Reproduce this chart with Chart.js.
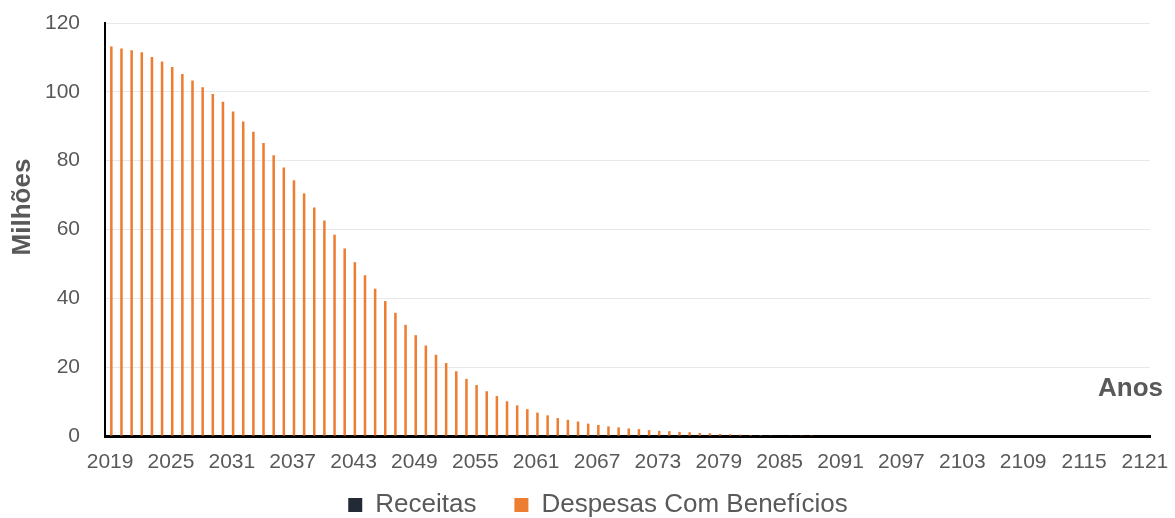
<!DOCTYPE html>
<html>
<head>
<meta charset="utf-8">
<script src="https://cdn.jsdelivr.net/npm/chart.js@4/dist/chart.umd.min.js"></script>
<style>
  html, body { margin: 0; padding: 0; background: #ffffff; }
  #wrap { width: 1175px; height: 518px; position: relative; }
</style>
</head>
<body>
<div id="wrap"><canvas id="c" width="1175" height="518"></canvas></div>
<script>
// ---- Data ----
const years = [];
for (let y = 2019; y <= 2121; y++) years.push(String(y));

const receitas = [
  0,0,0,0,0,0,0,0,0,0, 0,0,0,0,0,0,0,0,0,0,
  0,0,0,0,0,0,0,0,0,0, 0,0,0,0,0,0,0,0,0,0,
  0,0,0,0,0,0,0,0,0,0, 0,0,0,0,0,0,0,0,0,0,
  0,0,0,0,0,0,0,0,0,0, 0,0,0,0,0,0,0,0,0,0,
  0,0,0,0,0,0,0,0,0,0, 0,0,0,0,0,0,0,0,0,0,
  0,0,0
];

const despesas = [
  113.2, 112.6, 112.1, 111.5, 110.1, 108.8, 107.2, 105.2, 103.3, 101.3, // 2019-2028
  99.4, 97.1, 94.3, 91.4, 88.4, 85.1, 81.6, 78.0, 74.3, 70.5,           // 2029-2038
  66.4, 62.6, 58.5, 54.5, 50.5, 46.7, 42.8, 39.2, 35.8, 32.3,           // 2039-2048
  29.3, 26.3, 23.6, 21.2, 18.8, 16.6, 14.8, 13.0, 11.6, 10.1,           // 2049-2058
  8.9, 7.8, 6.8, 6.0, 5.2, 4.7, 4.2, 3.6, 3.2, 2.8,                     // 2059-2068
  2.5, 2.2, 2.0, 1.7, 1.5, 1.4, 1.2, 1.1, 0.9, 0.8,                     // 2069-2078
  0.6, 0.5, 0.4, 0.3, 0.25, 0.2, 0.15, 0.1, 0.08, 0.05,                 // 2079-2088
  0, 0, 0, 0, 0, 0, 0, 0, 0, 0,                                         // 2089-2098
  0, 0, 0, 0, 0, 0, 0, 0, 0, 0,                                         // 2099-2108
  0, 0, 0, 0, 0, 0, 0, 0, 0, 0,                                         // 2109-2118
  0, 0, 0                                                               // 2119-2121
];

const yTicks = [0, 20, 40, 60, 80, 100, 120];
const labelEvery = 6;
const yTitle = 'Milhões';
const xTitle = 'Anos';
const seriesNames = ['Receitas', 'Despesas Com Benefícios'];

// ---- Styles ----
const FONT = '"Liberation Sans", Arial, sans-serif';
const TXT = '#595959';
const CLEAR = 'rgba(0,0,0,0)';

const titlesPlugin = {
  id: 'axisTitles',
  afterDraw(chart) {
    const ctx = chart.ctx;
    ctx.save();
    ctx.fillStyle = TXT;
    ctx.font = 'bold 26px ' + FONT;
    ctx.textBaseline = 'middle';
    ctx.textAlign = 'center';
    ctx.translate(23, 207);
    ctx.rotate(-Math.PI / 2);
    ctx.fillText(yTitle, 0, 0);
    ctx.restore();
    ctx.save();
    ctx.fillStyle = TXT;
    ctx.font = 'bold 26px ' + FONT;
    ctx.textBaseline = 'middle';
    ctx.textAlign = 'right';
    ctx.fillText(xTitle, 1163, 389);
    ctx.restore();
  }
};

const layoutNudge = {
  id: 'layoutNudge',
  afterLayout(chart) {
    const lg = chart.legend;
    if (lg) {
      const dx = 23, dy = 10;
      lg.left += dx; lg.right += dx;
      lg.top += dy; lg.bottom += dy;
    }
    const xs = chart.scales.x;
    if (xs) { xs.bottom = xs.top + 50; }
  }
};

new Chart(document.getElementById('c'), {
  type: 'bar',
  data: {
    labels: years,
    datasets: [
      { label: seriesNames[0], data: receitas, backgroundColor: '#222a35', borderWidth: 0 },
      { label: seriesNames[1], data: despesas, backgroundColor: '#ed7d31', borderWidth: 0 }
    ]
  },
  plugins: [titlesPlugin, layoutNudge],
  options: {
    responsive: false,
    animation: false,
    devicePixelRatio: 1,
    datasets: { bar: { categoryPercentage: 0.5, barPercentage: 1.0 } },
    layout: { padding: { top: 23, right: 25, left: 0, bottom: 0 } },
    plugins: {
      tooltip: { enabled: false },
      legend: {
        position: 'bottom',
        labels: {
          color: TXT,
          font: { family: FONT, size: 26 },
          boxWidth: 14,
          boxHeight: 14,
          padding: 38
        }
      }
    },
    scales: {
      x: {
        grid: { display: true, drawOnChartArea: false, drawTicks: true, tickLength: 14, color: CLEAR, tickColor: CLEAR },
        border: { display: true, color: '#000000', width: 3 },
        ticks: {
          autoSkip: false,
          maxRotation: 0,
          minRotation: 0,
          padding: 0,
          color: TXT,
          font: { family: FONT, size: 21 },
          callback: function(val, idx) { return idx % labelEvery === 0 ? years[idx] : ''; }
        },
        afterFit(scale) { scale.height = 8; }
      },
      y: {
        min: 0,
        max: 120,
        afterBuildTicks(scale) { scale.ticks = yTicks.map(v => ({ value: v })); },
        grid: { color: '#e8e8e8', lineWidth: 1, drawTicks: true, tickLength: 25, tickColor: CLEAR },
        border: { display: true, color: '#000000', width: 2 },
        ticks: {
          padding: 0,
          color: TXT,
          font: { family: FONT, size: 21 }
        },
        afterFit(scale) { scale.width = 105; }
      }
    }
  }
});
</script>
</body>
</html>
